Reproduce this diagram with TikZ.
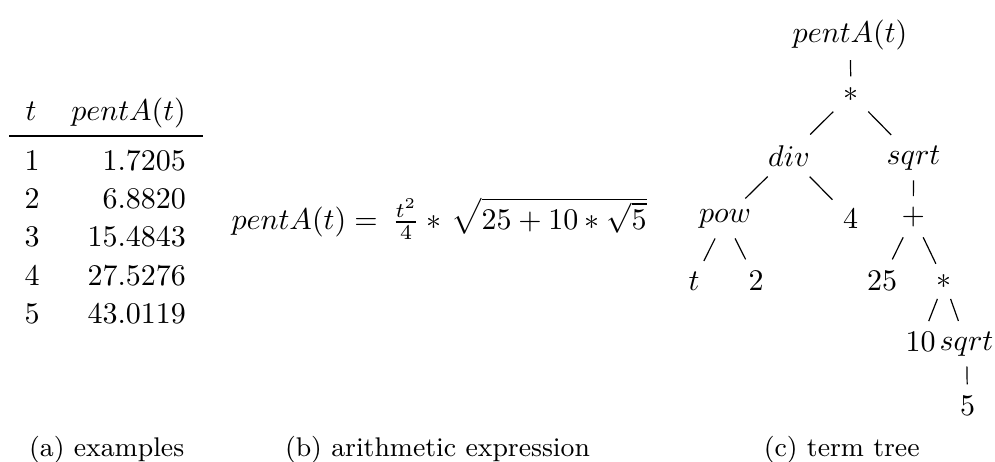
\documentclass[tikz,border=0pt]{standalone}
\begin{document}
\begin{tikzpicture}[x=0.33333pt,y=-0.33333pt,
  lbl/.style={anchor=base,inner sep=0pt},
  numr/.style={anchor=base east,inner sep=0pt},
  tn/.style={anchor=base},
  treeline/.style={line width=0.4pt},
  captxt/.style={anchor=base,inner sep=0pt,font=\small}]
\useasboundingbox (0,0) rectangle (995,461);
% (a) table
\node[lbl] (h1) at (31,120) {$t$};
\node[numr] (h2) at (186.5,120) {$pentA(t)$};
\coordinate (rl) at (9,136);
\coordinate (rr) at (203,136);
\draw[line width=0.6pt] (rl) -- (rr);
\node[lbl] (a1) at (32,170) {1};
\node[numr] (b1) at (186.5,170) {1.7205};
\node[lbl] (a2) at (32,208.3) {2};
\node[numr] (b2) at (186.5,208.3) {6.8820};
\node[lbl] (a3) at (32,246.6) {3};
\node[numr] (b3) at (186.5,246.6) {15.4843};
\node[lbl] (a4) at (32,285) {4};
\node[numr] (b4) at (186.5,285) {27.5276};
\node[lbl] (a5) at (32,323.3) {5};
\node[numr] (b5) at (186.5,323.3) {43.0119};
% (b) expression
\node[lbl,anchor=base west] (eq) at (231,229.5) {$pentA(t) = \mkern3.5mu\frac{t^2}{4} * \mkern2mu\sqrt{25 + 10 * \sqrt{5}}$};
% (c) term tree
\node[tn] (root) at (850,42) {$pentA(t)$};
\node[tn] (m1) at (851,101) {$*$};
\node[tn] (div) at (789,166) {$div$};
\node[tn] (sq1) at (913.5,164) {$sqrt$};
\node[tn] (pow) at (725,222) {$pow$};
\node[tn] (four) at (850.5,228.3) {4};
\node[tn] (plus) at (913.3,224.2) {$+$};
\node[tn] (t) at (694,290) {$t$};
\node[tn] (two) at (756,290) {2};
\node[tn] (tf) at (882,290) {25};
\node[tn] (m2) at (944.3,288.3) {$*$};
\node[tn] (ten) at (920.5,351.7) {10};
\node[tn] (sq2) at (966.5,350) {$sqrt$};
\node[tn] (five) at (967.5,415) {5};
\draw[treeline] (root) -- (m1);
\draw[treeline] (m1) -- (div);
\draw[treeline] (m1) -- (sq1);
\draw[treeline] (div) -- (pow);
\draw[treeline] (div) -- (four);
\draw[treeline] (sq1) -- (plus);
\draw[treeline] (pow) -- (t);
\draw[treeline] (pow) -- (two);
\draw[treeline] (plus) -- (tf);
\draw[treeline] (plus) -- (m2);
\draw[treeline] (m2) -- (ten);
\draw[treeline] (m2) -- (sq2);
\draw[treeline] (sq2) -- (five);
% captions
\node[captxt] (ca) at (106.7,456) {(a) examples};
\node[captxt] (cb) at (437.5,456) {(b) arithmetic expression};
\node[captxt] (cc) at (841.7,456) {(c) term tree};
\end{tikzpicture}
\end{document}
